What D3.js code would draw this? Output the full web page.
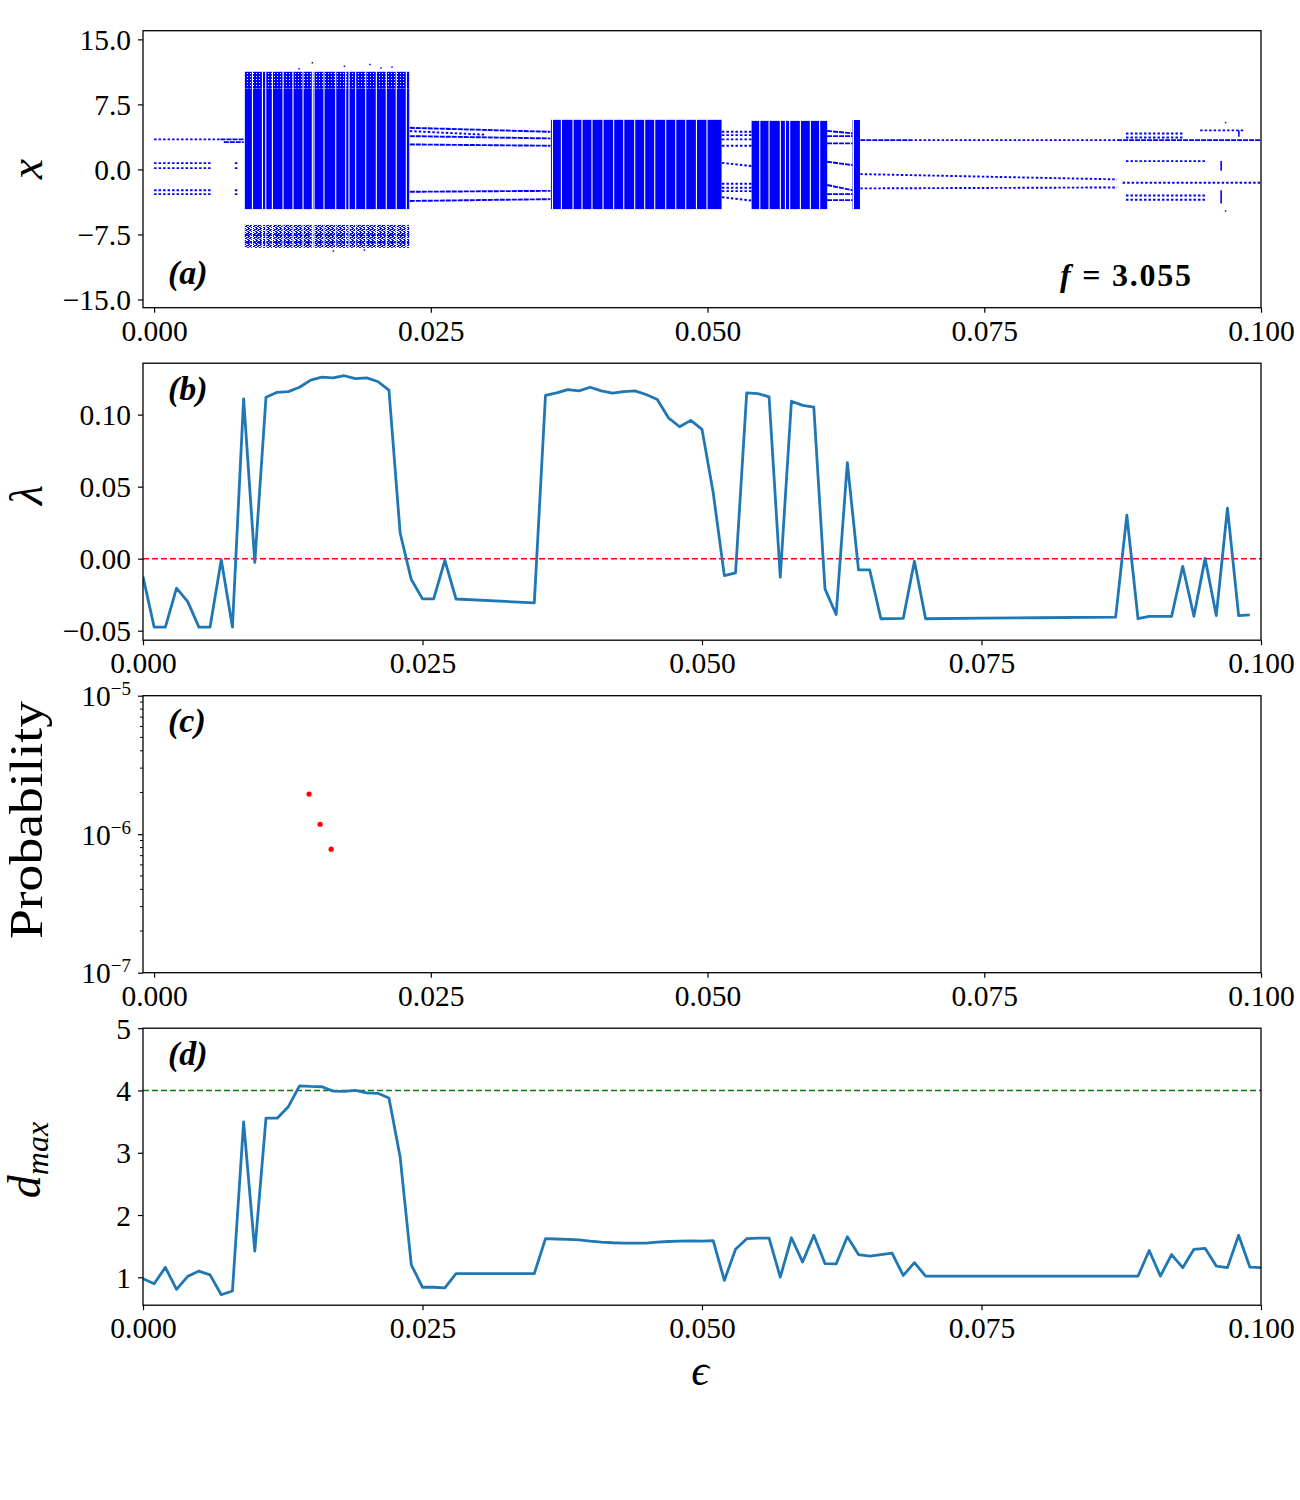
<!DOCTYPE html>
<html>
<head>
<meta charset="utf-8">
<script src="https://cdn.jsdelivr.net/npm/d3@7"></script>
<style>
body { margin: 0; background: #fff; }
svg text { font-family: "Liberation Serif", "DejaVu Serif", serif; fill: #000; }
</style>
</head>
<body>
<div id="chart"></div>
<script>
// ---------- data ----------
var xTicks = [0.000, 0.025, 0.050, 0.075, 0.100];
var yTicksA = [-15, -7.5, 0, 7.5, 15];
var yTicksB = [-0.05, 0.00, 0.05, 0.10];
var yTicksC = [1e-7, 1e-6, 1e-5];
var yTickLabelsC = ["\u22127", "\u22126", "\u22125"];
var yMinorC = [2e-7, 3e-7, 4e-7, 5e-7, 6e-7, 7e-7, 8e-7, 9e-7, 2e-6, 3e-6, 4e-6, 5e-6, 6e-6, 7e-6, 8e-6, 9e-6];
var yTicksD = [1, 2, 3, 4, 5];

// (a) bifurcation diagram: chaotic bands [eps0, eps1, xLow, xHigh]
var chaosBands = [
    [0.0082, 0.02305, -4.58, 9.35],
    [0.03585, 0.05127, -4.58, 5.72],
    [0.05398, 0.06081, -4.58, 5.6],
    [0.0631, 0.06377, -4.58, 5.7]
];
var speckDenseBands = [
    [0.0082, 0.02305, 9.35, 11.26]
];
var speckLightBands = [
    [0.0082, 0.02305, -9.05, -6.4]
];
// thin empty columns inside the chaotic bands
var chaosGaps = [
    0.00889, 0.00979, 0.01009, 0.01069, 0.01165, 0.01255, 0.01346, 0.01430, 0.01445,
    0.01535, 0.01641, 0.01731, 0.01761, 0.01821, 0.01912, 0.02008, 0.02098, 0.02188, 0.02279,
    0.03599, 0.03680, 0.03785, 0.03866, 0.03956, 0.04056, 0.04152, 0.04243, 0.04342,
    0.04432, 0.04523, 0.04622, 0.04713, 0.04803, 0.04900, 0.04995,
    0.05472, 0.05556, 0.05658, 0.05704, 0.05742, 0.05839, 0.05929, 0.06013, 0.06318
];
// periodic branches [eps0, eps1, xStart, xEnd]
var branchesDense = [
    [0.0060, 0.0081, 3.46, 3.46], [0.0063, 0.0081, 3.15, 3.15],
    [0.0231, 0.0358, 4.80, 4.34], [0.0231, 0.0358, 3.84, 3.57],
    [0.0231, 0.0358, 2.88, 2.73], [0.0231, 0.0358, -2.58, -2.47],
    [0.0231, 0.0358, -3.64, -3.43],
    [0.0082, 0.02305, -7.58, -7.58], [0.0082, 0.02305, -8.43, -8.43],
    [0.0608, 0.0631, 4.45, 4.15], [0.0608, 0.0631, 3.84, 3.84],
    [0.0608, 0.0631, 3.0, 3.0], [0.0608, 0.0631, 0.88, 0.5],
    [0.0608, 0.0631, -1.8, -2.4], [0.0608, 0.0631, -2.85, -2.85],
    [0.0608, 0.0631, -3.54, -3.54],
    [0.0638, 0.0683, 3.38, 3.38], [0.0870, 0.1000, 3.38, 3.38]
];
var branchesSparse = [
    [0.0000, 0.0060, 3.46, 3.46],
    [0.0000, 0.0052, 0.72, 0.72], [0.0000, 0.0052, 0.15, 0.15],
    [0.0000, 0.0052, -2.40, -2.40], [0.0000, 0.0052, -2.85, -2.85],
    [0.0073, 0.0076, 0.72, 0.72], [0.0073, 0.0076, 0.15, 0.15],
    [0.0073, 0.0076, -2.40, -2.40], [0.0073, 0.0076, -2.85, -2.85],
    [0.0231, 0.0300, 4.42, 4.00],
    [0.0513, 0.0540, 4.34, 4.34], [0.0513, 0.0540, 3.96, 3.96],
    [0.0513, 0.0540, 3.46, 3.46], [0.0513, 0.0540, 2.73, 2.73],
    [0.0513, 0.0540, 0.76, 0.38], [0.0513, 0.0540, -1.66, -1.66],
    [0.0513, 0.0540, -2.12, -2.12], [0.0513, 0.0540, -2.50, -2.50],
    [0.0513, 0.0540, -3.20, -3.60],
    [0.0683, 0.0870, 3.38, 3.38],
    [0.0638, 0.0870, -0.54, -1.15], [0.0638, 0.0870, -2.19, -2.08],
    [0.0875, 0.1000, -1.54, -1.54],
    [0.0878, 0.0930, 4.15, 4.15], [0.0878, 0.0930, 3.69, 3.69],
    [0.0878, 0.0950, 0.96, 0.96], [0.0878, 0.0950, -3.00, -3.00],
    [0.0878, 0.0950, -3.50, -3.50], [0.0945, 0.0985, 4.50, 4.50]
];
// vertical streaks [eps, xTop, xBottom] and single points [eps, x]
var streaks = [[0.0964, 0.96, -0.16], [0.0964, -2.39, -3.92], [0.0980, 4.5, 3.77]];
var strayPoints = [
    [0.0968, 5.4], [0.0968, -4.8], [0.0143, 12.3], [0.0195, 12.1],
    [0.0131, 11.6], [0.0172, 11.9], [0.0205, 11.7], [0.0215, 11.8], [0.0162, -9.4], [0.0190, -9.3]
];

// (b) largest Lyapunov exponent
var epsLyap = [
    0.000, 0.001, 0.002, 0.003, 0.004, 0.005, 0.006, 0.007, 0.008, 0.009,
    0.010, 0.011, 0.012, 0.013, 0.014, 0.015, 0.016, 0.017, 0.018, 0.019,
    0.020, 0.021, 0.022, 0.023, 0.024, 0.025, 0.026, 0.027, 0.028,
    0.035, 0.036, 0.037, 0.038, 0.039, 0.040, 0.041, 0.042, 0.043, 0.044,
    0.045, 0.046, 0.047, 0.048, 0.049, 0.050, 0.051, 0.052, 0.053, 0.054,
    0.055, 0.056, 0.057, 0.058, 0.059, 0.060, 0.061, 0.062, 0.063, 0.064,
    0.065, 0.066, 0.067, 0.068, 0.069, 0.070, 0.075, 0.080, 0.087, 0.088,
    0.089, 0.090, 0.091, 0.092, 0.093, 0.094, 0.095, 0.096, 0.097, 0.098, 0.099
];
var lyap = [
    -0.0125, -0.0475, -0.0475, -0.0205, -0.0298, -0.0475, -0.0475, -0.0007, -0.0475, 0.1110,
    -0.0026, 0.1120, 0.1155, 0.1160, 0.1190, 0.1240, 0.1260, 0.1255, 0.1270, 0.1250,
    0.1255, 0.1230, 0.1170, 0.0178, -0.0145, -0.0279, -0.0279, -0.0012, -0.0280,
    -0.0307, 0.1133, 0.1151, 0.1174, 0.1165, 0.1190, 0.1165, 0.1150, 0.1160, 0.1165,
    0.1140, 0.1105, 0.0978, 0.0916, 0.0960, 0.0898, 0.0459, -0.0118, -0.0099, 0.1151,
    0.1146, 0.1123, -0.0129, 0.1093, 0.1064, 0.1052, -0.0210, -0.0388, 0.0667, -0.0078,
    -0.0078, -0.0417, -0.0416, -0.0415, -0.0018, -0.0417, -0.0413, -0.0410, -0.0406, 0.0302,
    -0.0417, -0.0401, -0.0401, -0.0401, -0.0053, -0.0400, 0.0002, -0.0395, 0.0351, -0.0395, -0.0390
];

// (c) probability of extreme events
var epsProb = [0.014, 0.015, 0.016];
var prob = [1.95e-6, 1.18e-6, 7.8e-7];

// (d) maximum amplitude
var epsDmax = [
    0.000, 0.001, 0.002, 0.003, 0.004, 0.005, 0.006, 0.007, 0.008, 0.009,
    0.010, 0.011, 0.012, 0.013, 0.014, 0.015, 0.016, 0.017, 0.018, 0.019,
    0.020, 0.021, 0.022, 0.023, 0.024, 0.025, 0.026, 0.027, 0.028,
    0.035, 0.036, 0.037, 0.038, 0.039, 0.040, 0.041, 0.042, 0.043, 0.044,
    0.045, 0.046, 0.047, 0.048, 0.049, 0.050, 0.051, 0.052, 0.053, 0.054,
    0.055, 0.056, 0.057, 0.058, 0.059, 0.060, 0.061, 0.062, 0.063, 0.064,
    0.065, 0.066, 0.067, 0.068, 0.069, 0.070, 0.089, 0.090,
    0.091, 0.092, 0.093, 0.094, 0.095, 0.096, 0.097, 0.098, 0.099, 0.100
];
var dmax = [
    0.977, 0.897, 1.160, 0.806, 1.015, 1.100, 1.040, 0.720, 0.780, 3.495,
    1.420, 3.555, 3.555, 3.740, 4.075, 4.065, 4.060, 3.990, 3.985, 4.000,
    3.960, 3.955, 3.880, 2.930, 1.200, 0.840, 0.840, 0.830, 1.060,
    1.060, 1.620, 1.615, 1.610, 1.600, 1.580, 1.565, 1.555, 1.550, 1.550,
    1.550, 1.565, 1.575, 1.580, 1.585, 1.580, 1.590, 0.950, 1.450, 1.620,
    1.630, 1.630, 1.003, 1.635, 1.245, 1.675, 1.220, 1.215, 1.650, 1.365,
    1.340, 1.365, 1.390, 1.030, 1.235, 1.020, 1.020, 1.430,
    1.020, 1.365, 1.155, 1.450, 1.465, 1.180, 1.155, 1.675, 1.165, 1.155
];

// ---------- layout ----------
var width = 1300, height = 1500;
var left = 143, right = 1261, panelH = 277;
var tops = [30.7, 363.2, 695.7, 1028.2];
var tickFont = "29.5px";

var svg = d3.select("#chart").append("svg")
    .attr("width", width)
    .attr("height", height)
    .style("background", "#fff");

var xA = d3.scaleLinear().domain([-0.001, 0.1]).range([left, right]);
var xB = d3.scaleLinear().domain([0, 0.1]).range([left, right]);
var yA = d3.scaleLinear().domain([-15.95, 16]).range([tops[0] + panelH, tops[0]]);
var yB = d3.scaleLinear().domain([-0.0566, 0.1357]).range([tops[1] + panelH, tops[1]]);
var yC = d3.scaleLog().domain([1e-7, 1e-5]).range([tops[2] + panelH, tops[2]]);
var yD = d3.scaleLinear().domain([0.552, 5]).range([tops[3] + panelH, tops[3]]);

var defs = svg.append("defs");
tops.forEach(function (t, i) {
    defs.append("clipPath").attr("id", "clip" + i)
        .append("rect").attr("x", left).attr("y", t).attr("width", right - left).attr("height", panelH);
});

var pDense = defs.append("pattern").attr("id", "speckDense")
    .attr("patternUnits", "userSpaceOnUse").attr("width", 3).attr("height", 3);
pDense.append("rect").attr("width", 3).attr("height", 3).attr("fill", "#0000ff");
pDense.append("rect").attr("x", 1).attr("y", 1).attr("width", 1).attr("height", 1).attr("fill", "#fff");
var pLight = defs.append("pattern").attr("id", "speckLight")
    .attr("patternUnits", "userSpaceOnUse").attr("width", 4).attr("height", 4);
[[0, 0], [1, 0], [2, 1], [3, 1], [1, 2], [2, 2], [3, 3], [0, 3], [0, 1]].forEach(function (p) {
    pLight.append("rect").attr("x", p[0]).attr("y", p[1]).attr("width", 1).attr("height", 1).attr("fill", "#0000ff");
});

function drawAxes(top, x, y, yTickVals, yFmt) {
    var xa = svg.append("g")
        .attr("transform", "translate(0," + (top + panelH) + ")")
        .call(d3.axisBottom(x).tickValues(xTicks).tickFormat(d3.format(".3f")).tickSize(5).tickPadding(7));
    var ya = svg.append("g")
        .attr("transform", "translate(" + left + ",0)")
        .call(d3.axisLeft(y).tickValues(yTickVals).tickFormat(yFmt).tickSize(5).tickPadding(7));
    [xa, ya].forEach(function (a) {
        a.select(".domain").remove();
        a.selectAll("line").attr("stroke", "#000").attr("stroke-width", 1.2);
        a.selectAll("text").style("font-size", tickFont).style("font-family", "Liberation Serif, serif").attr("fill", "#000");
    });
    ya.selectAll("text").attr("dy", "0.34em");
    return ya;
}

function drawFrame(top) {
    svg.append("rect")
        .attr("x", left).attr("y", top)
        .attr("width", right - left).attr("height", panelH)
        .attr("fill", "none").attr("stroke", "#000").attr("stroke-width", 1.3);
}

function panelLabel(top, txt) {
    svg.append("text")
        .attr("x", 168).attr("y", top)
        .style("font-size", "34px").style("font-weight", 700).style("font-style", "italic")
        .text(txt);
}

// ---------- (a) ----------
var gA = svg.append("g").attr("clip-path", "url(#clip0)");

gA.selectAll(".band").data(chaosBands).enter().append("rect")
    .attr("x", function (d) { return xA(d[0]); })
    .attr("width", function (d) { return xA(d[1]) - xA(d[0]); })
    .attr("y", function (d) { return yA(d[3]); })
    .attr("height", function (d) { return yA(d[2]) - yA(d[3]); })
    .attr("fill", "#0000ff");

gA.selectAll(".speckD").data(speckDenseBands).enter().append("rect")
    .attr("x", function (d) { return xA(d[0]); })
    .attr("width", function (d) { return xA(d[1]) - xA(d[0]); })
    .attr("y", function (d) { return yA(d[3]); })
    .attr("height", function (d) { return yA(d[2]) - yA(d[3]); })
    .attr("fill", "url(#speckDense)");

gA.selectAll(".speckL").data(speckLightBands).enter().append("rect")
    .attr("x", function (d) { return xA(d[0]); })
    .attr("width", function (d) { return xA(d[1]) - xA(d[0]); })
    .attr("y", function (d) { return yA(d[3]); })
    .attr("height", function (d) { return yA(d[2]) - yA(d[3]); })
    .attr("fill", "url(#speckLight)");

function drawBranches(data, dash) {
    gA.selectAll(null).data(data).enter().append("line")
        .attr("x1", function (d) { return xA(d[0]); })
        .attr("x2", function (d) { return xA(d[1]); })
        .attr("y1", function (d) { return yA(d[2]); })
        .attr("y2", function (d) { return yA(d[3]); })
        .attr("stroke", "#0000ff")
        .attr("stroke-width", 1.9)
        .attr("stroke-dasharray", dash);
}
drawBranches(branchesDense, "5 1");
drawBranches(branchesSparse, "2.5 2");

gA.selectAll(".gap").data(chaosGaps).enter().append("line")
    .attr("x1", function (d) { return xA(d); })
    .attr("x2", function (d) { return xA(d); })
    .attr("y1", yA(11.4))
    .attr("y2", yA(-9.2))
    .attr("stroke", "#fff")
    .attr("stroke-width", 1.1);

gA.selectAll(".streak").data(streaks).enter().append("line")
    .attr("x1", function (d) { return xA(d[0]); })
    .attr("x2", function (d) { return xA(d[0]); })
    .attr("y1", function (d) { return yA(d[1]); })
    .attr("y2", function (d) { return yA(d[2]); })
    .attr("stroke", "#0000ff")
    .attr("stroke-width", 1.6);

gA.selectAll(".stray").data(strayPoints).enter().append("rect")
    .attr("x", function (d) { return xA(d[0]) - 0.75; })
    .attr("y", function (d) { return yA(d[1]) - 0.75; })
    .attr("width", 1.5).attr("height", 1.5)
    .attr("fill", "#0000ff");

drawAxes(tops[0], xA, yA, yTicksA, d3.format(".1f"));
drawFrame(tops[0]);
panelLabel(tops[0] + panelH - 24, "(a)");

var fLabel = svg.append("text")
    .attr("x", 1060).attr("y", tops[0] + panelH - 21.5)
    .attr("textLength", 131)
    .style("font-size", "32px").style("font-weight", 700);
fLabel.append("tspan").style("font-style", "italic").text("f");
fLabel.append("tspan").text(" = 3.055");

// ---------- (b) ----------
var lineB = d3.line()
    .x(function (d, i) { return xB(epsLyap[i]); })
    .y(function (d) { return yB(d); });

svg.append("line")
    .attr("x1", left).attr("x2", right)
    .attr("y1", yB(0)).attr("y2", yB(0))
    .attr("stroke", "red").attr("stroke-width", 1.5)
    .attr("stroke-dasharray", "6 3");

svg.append("path")
    .datum(lyap)
    .attr("clip-path", "url(#clip1)")
    .attr("d", lineB)
    .attr("fill", "none")
    .attr("stroke", "#1f77b4")
    .attr("stroke-width", 2.8)
    .attr("stroke-linejoin", "round");

drawAxes(tops[1], xB, yB, yTicksB, d3.format(".2f"));
drawFrame(tops[1]);
panelLabel(tops[1] + 36.5, "(b)");

// ---------- (c) ----------
svg.append("g").selectAll("circle").data(prob).enter().append("circle")
    .attr("cx", function (d, i) { return xA(epsProb[i]); })
    .attr("cy", function (d) { return yC(d); })
    .attr("r", 2.6)
    .attr("fill", "red");

var yaC = drawAxes(tops[2], xA, yC, yTicksC, function () { return ""; });
yaC.selectAll(".tick").each(function (d) {
    var t = d3.select(this).select("text").text(null).attr("dy", "0.34em");
    t.append("tspan").text("10");
    t.append("tspan").attr("dy", -11).style("font-size", "19px").text(yTickLabelsC[yTicksC.indexOf(d)]);
});
svg.append("g").selectAll("line").data(yMinorC).enter().append("line")
    .attr("x1", left - 3).attr("x2", left)
    .attr("y1", function (d) { return yC(d); })
    .attr("y2", function (d) { return yC(d); })
    .attr("stroke", "#000").attr("stroke-width", 1);
drawFrame(tops[2]);
panelLabel(tops[2] + 36.5, "(c)");

// ---------- (d) ----------
var lineD = d3.line()
    .x(function (d, i) { return xB(epsDmax[i]); })
    .y(function (d) { return yD(d); });

svg.append("line")
    .attr("x1", left).attr("x2", right)
    .attr("y1", yD(4)).attr("y2", yD(4))
    .attr("stroke", "green").attr("stroke-width", 1.5)
    .attr("stroke-dasharray", "6 3");

svg.append("path")
    .datum(dmax)
    .attr("clip-path", "url(#clip3)")
    .attr("d", lineD)
    .attr("fill", "none")
    .attr("stroke", "#1f77b4")
    .attr("stroke-width", 2.8)
    .attr("stroke-linejoin", "round");

drawAxes(tops[3], xB, yD, yTicksD, d3.format("d"));
drawFrame(tops[3]);
panelLabel(tops[3] + 36.5, "(d)");

// ---------- axis titles ----------
function yTitle(cx, cy) {
    return svg.append("text")
        .attr("transform", "translate(" + cx + "," + cy + ") rotate(-90)")
        .attr("text-anchor", "middle")
        .style("font-size", "46px");
}
yTitle(42, 169).style("font-style", "italic").text("x");
yTitle(42, 495).style("font-style", "italic").text("\u03bb");
yTitle(42, 820).attr("textLength", 238).attr("lengthAdjust", "spacingAndGlyphs").text("Probability");
var dTitle = yTitle(40, 1160).style("font-style", "italic");
dTitle.append("tspan").text("d");
dTitle.append("tspan").attr("dy", 8).style("font-size", "32px").text("max");

svg.append("text")
    .attr("x", 700).attr("y", 1385)
    .attr("text-anchor", "middle")
    .style("font-size", "44px").style("font-style", "italic")
    .text("\u03f5");
</script>
</body>
</html>
